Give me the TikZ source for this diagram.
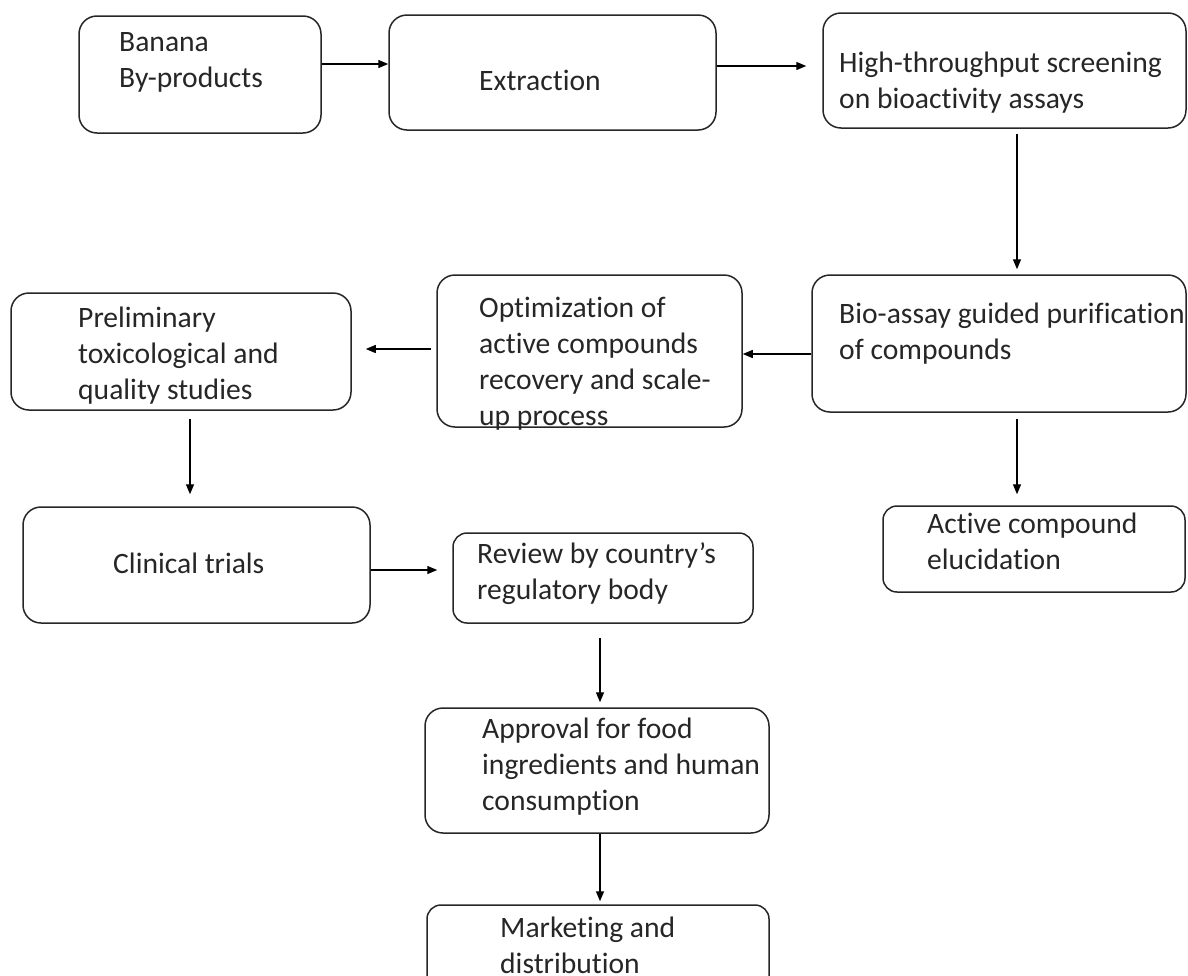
\documentclass[tikz,border=0pt]{standalone}
\usepackage{fontspec}
\setmainfont{Carlito}[Ligatures=CommonOff]
\usetikzlibrary{arrows.meta}
\newcommand{\flowfont}{\fontsize{29.6pt}{36pt}\selectfont}
\tikzset{
  stage/.style={draw=black!85, line width=1.5pt, rounded corners=18pt, inner sep=0pt},
  txt/.style={anchor=north west, inner sep=0pt, align=left, font=\flowfont, text=black!85},
  flow/.style={draw=black, line width=1.4pt, -{Triangle[length=10pt,width=8pt]}}
}

\begin{document}
\begin{tikzpicture}[x=1pt, y=-1pt]
  \useasboundingbox (0,0) rectangle (1188,975);

  % boxes
  \node[stage, minimum width=242pt, minimum height=117pt] (banana) at (200,74.5) {};
  \node[stage, minimum width=327pt, minimum height=115pt] (extract) at (552.5,72.5) {};
  \node[stage, minimum width=363pt, minimum height=115pt] (screen) at (1004.5,70.5) {};
  \node[stage, minimum width=374pt, minimum height=137pt] (purify) at (999,343.5) {};
  \node[stage, minimum width=305pt, minimum height=152pt] (optim) at (589.5,351) {};
  \node[stage, minimum width=340pt, minimum height=117pt] (prelim) at (181,351.5) {};
  \node[stage, minimum width=347pt, minimum height=116pt] (clinical) at (196.5,565) {};
  \node[stage, rounded corners=14pt, minimum width=300pt, minimum height=90pt] (review) at (603,578) {};
  \node[stage, rounded corners=14pt, minimum width=302pt, minimum height=86pt] (active) at (1034,549) {};
  \node[stage, minimum width=344pt, minimum height=125pt] (approval) at (597,770.5) {};
  \node[stage, rounded corners=14pt, minimum width=342pt, minimum height=85pt] (market) at (598,947.5) {};

  % texts
  \node[txt] (banana-t) at (119,25.8) {\strut Banana\\By-products};
  \node[txt] (extract-t) at (479,64.8) {\strut Extraction};
  \node[txt] (screen-t) at (839,46.8) {\strut High-throughput screening\\on bioactivity assays};
  \node[txt] (purify-t) at (839,297.8) {\strut Bio-assay guided purification\\of compounds};
  \node[txt] (optim-t) at (479,291.8) {\strut Optimization of\\active compounds\\recovery and scale-\\up process};
  \node[txt] (prelim-t) at (78,301.8) {\strut Preliminary\\toxicological and\\quality studies};
  \node[txt] (clinical-t) at (113,547.8) {\strut Clinical trials};
  \node[txt] (review-t) at (477,537.8) {\strut Review by country’s\\regulatory body};
  \node[txt] (active-t) at (927,507.8) {\strut Active compound\\elucidation};
  \node[txt] (approval-t) at (482,712.8) {\strut Approval for food\\ingredients and human\\consumption};
  \node[txt] (market-t) at (500,911.8) {\strut Marketing and\\distribution};

  % arrows
  \draw[flow] (banana.east |- 0,64) -- (extract.west |- 0,64);
  \draw[flow, shorten >=16pt] (extract.east |- 0,66) -- (screen.west |- 0,66);
  \draw[flow, shorten <=5pt, shorten >=5pt] (1017,0 |- screen.south) -- (1017,0 |- purify.north);
  \draw[flow] (purify.west |- 0,354) -- (optim.east |- 0,354);
  \draw[flow, shorten <=5pt, shorten >=14pt] (optim.west |- 0,349) -- (prelim.east |- 0,349);
  \draw[flow, shorten <=8pt, shorten >=12pt] (190,0 |- prelim.south) -- (190,0 |- clinical.north);
  \draw[flow, shorten <=6pt, shorten >=11pt] (1017,0 |- purify.south) -- (1017,0 |- active.north);
  \draw[flow, shorten >=15pt] (clinical.east |- 0,570) -- (review.west |- 0,570);
  \draw[flow, shorten <=14pt, shorten >=5pt] (600,0 |- review.south) -- (600,0 |- approval.north);
  \draw[flow, shorten >=3pt] (600,0 |- approval.south) -- (600,0 |- market.north);
\end{tikzpicture}
\end{document}
